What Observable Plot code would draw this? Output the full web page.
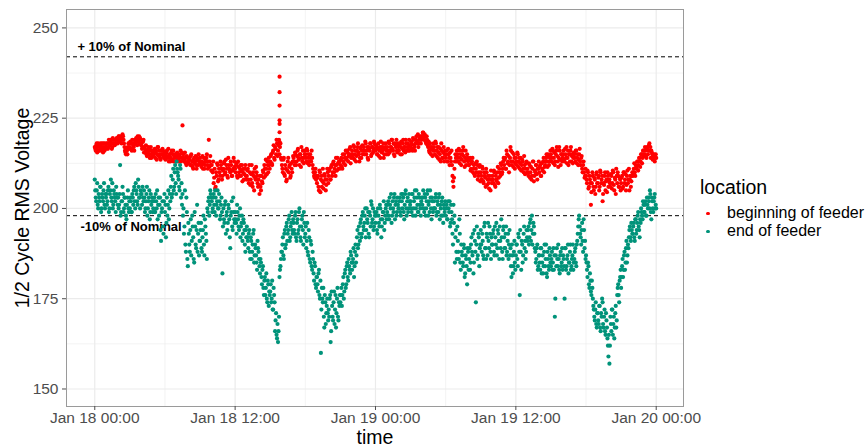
<!DOCTYPE html>
<html>
<head>
<meta charset="utf-8">
<script src="https://cdn.jsdelivr.net/npm/d3@7"></script>
<script src="https://cdn.jsdelivr.net/npm/@observablehq/plot@0.6"></script>
<style>
  html, body { margin: 0; padding: 0; background: #fff; }
  #wrap { position: relative; width: 865px; height: 447px; font-family: "Liberation Sans", Arial, Helvetica, sans-serif; }
  #legend { position: absolute; left: 700px; top: 175px; color: #000; }
  #legend .title { font-size: 19.5px; line-height: 24px; }
  #legend .entries { margin-top: 5px; }
  #legend .entry { position: relative; font-size: 16px; line-height: 18.4px; height: 18.4px; padding-left: 27px; white-space: nowrap; }
  #legend .dot { position: absolute; left: 6.4px; top: 7.6px; width: 3.2px; height: 3.2px; border-radius: 50%; }
</style>
</head>
<body>
<div id="wrap"><div id="chart"></div><div id="legend"></div></div>
<script>
// ---- categories & styling lookup ----
const locations = ["beginning of feeder", "end of feeder"];
const colors = ["#ff0000", "#00937a"];

// ---- tick labels ----
const xTickTimes = ["2018-01-18T00:00Z", "2018-01-18T12:00Z", "2018-01-19T00:00Z", "2018-01-19T12:00Z", "2018-01-20T00:00Z"];
const xMinorTimes = ["2018-01-18T06:00Z", "2018-01-18T18:00Z", "2018-01-19T06:00Z", "2018-01-19T18:00Z"];
const yTicks = [150, 175, 200, 225, 250];
const yMinor = [162.5, 187.5, 212.5, 237.5];

// ---- reference lines & their labels ----
const limitValues = [242, 198];
const limitLabels = ["+ 10% of Nominal", "-10% of Nominal"];
const limitLabelTimes = ["2018-01-17T22:31Z", "2018-01-17T22:47Z"];
const limitLabelValues = [244.9, 194.8];

// ---- series: 5-minute readings (set A on the 5-min mark, set B 2.5 min later),
//      one row per hour starting Jan 18 00:00 ----
const startTime = "2018-01-18T00:00Z";
const beginningOfFeederA = [
  [217,216,218,217,216,217,218,216,217,218,216,217],
  [217,218,217,218,219,218,217,219,218,219,218,219],
  [219,220,219,220,219,220,218,216,215,216,217,218],
  [217,218,216,218,217,219,218,219,220,219,218,219],
  [218,217,219,217,216,215,216,217,215,216,214,216],
  [215,216,214,216,215,217,215,214,216,215,216,214],
  [215,214,216,214,213,215,214,216,215,213,214,215],
  [214,215,213,214,216,214,223,215,213,214,212,214],
  [213,214,212,215,213,211,214,213,212,214,212,213],
  [214,212,213,211,214,212,213,215,211,219,213,212],
  [212,210,207,211,206,209,212,208,210,213,211,209],
  [211,213,210,212,209,214,211,210,212,209,211,213],
  [211,212,209,213,210,211,209,212,210,208,211,209],
  [209,211,207,210,208,212,206,209,211,208,210,207],
  [208,204,206,209,207,210,212,209,211,213,210,212],
  [213,215,212,216,214,217,215,218,216,219,217,214],
  [212,210,214,209,211,208,213,210,212,209,211,213],
  [214,212,215,213,216,214,212,215,217,213,214,216],
  [215,213,216,214,212,215,213,214,211,209,210,208],
  [207,209,205,210,208,206,211,207,209,205,208,210],
  [209,211,208,212,210,213,211,209,212,214,211,213],
  [212,214,211,213,215,212,214,216,213,215,217,214],
  [216,214,217,215,213,216,218,215,214,217,216,215],
  [217,215,218,216,214,217,216,218,215,217,216,218],
  [216,217,215,218,216,214,217,216,218,215,217,216],
  [217,215,218,216,217,219,216,215,218,217,216,218],
  [216,218,217,215,218,216,217,219,216,218,217,216],
  [217,218,216,219,217,218,220,218,217,219,220,219],
  [220,221,219,220,218,219,217,216,218,215,217,216],
  [217,215,218,216,214,217,215,213,216,214,217,215],
  [214,216,213,215,212,214,216,209,206,211,215,213],
  [215,213,216,214,212,215,217,213,214,212,215,213],
  [212,214,211,213,210,212,209,211,213,208,210,212],
  [210,208,211,207,209,206,210,208,207,209,205,208],
  [209,207,210,206,208,210,207,211,209,212,210,213],
  [212,214,211,215,213,210,214,216,212,213,215,211],
  [214,212,215,213,211,214,212,213,210,212,211,213],
  [211,209,212,210,208,211,213,209,210,212,208,211],
  [210,212,209,211,213,210,212,214,213,215,212,214],
  [215,213,216,214,212,215,217,213,214,216,212,215],
  [214,216,213,215,217,214,212,215,216,213,215,214],
  [215,213,216,214,212,215,213,214,211,212,210,209],
  [209,207,210,206,208,201,207,209,205,208,206,210],
  [207,209,206,210,208,202,207,209,205,208,210,206],
  [208,206,209,207,210,205,208,211,207,209,206,208],
  [207,209,206,210,208,205,209,207,211,208,206,209],
  [209,211,210,212,211,213,212,214,213,215,214,216],
  [215,216,214,217,216,218,217,216,215,214,215,214],
  [214]
];
const beginningOfFeederB = [
  [216.5,217.5,215.5,218,216,217.5,216.5,218,215.5,217,218,216.5],
  [218,216.5,219,217.5,218.5,216.5,219.5,218,217.5,219,219.5,218],
  [220,218.5,219.5,218,220.5,219,217,215.5,216.5,215,218,216.5],
  [218.5,216.5,219,217.5,216,218.5,219.5,217.5,218.5,220,219.5,217.5],
  [216.5,218.5,215.5,216.5,217.5,214.5,215.5,216.5,214,217,215,215.5],
  [214.5,216.5,215.5,213.5,217,214.5,216,213.5,215,216.5,214.5,215.5],
  [213.5,215.5,214.5,216.5,214,213,215.5,213.5,216,214.5,215,213],
  [215.5,213.5,214.5,215,213,215.5,214,213.5,215.5,212.5,214.5,213],
  [212.5,213.5,214.5,212,211.5,213.5,212.5,214.5,211,213.5,215,212.5],
  [213,211.5,214.5,212.5,211,213.5,214,212,213,211.5,214.5,210.5],
  [210.5,213,208.5,205.5,210,212.5,207.5,211,209,212,208,210.5],
  [212.5,209.5,213.5,211,208.5,212,210.5,213,209,210.5,214,211.5],
  [210,212.5,208.5,211.5,209,212,210.5,207.5,211,209.5,212,208],
  [210.5,208,212,206.5,209.5,207,210,205,208.5,211.5,209,206],
  [206.5,209,205,207.5,210.5,208.5,211,213.5,209.5,212,214,211],
  [214.5,212.5,215.5,217.5,213.5,216.5,219,214.5,217.5,215,218,213.5],
  [211,213.5,209.5,212,207.5,210.5,214,211.5,208.5,212.5,210,214.5],
  [213,215.5,212,214.5,216.5,213.5,215,211.5,214,216,212.5,215],
  [214,216.5,212.5,215,213,214,216,212,210,208.5,211,209],
  [208.5,206,210.5,204.5,209,207.5,205.5,209.5,208,206.5,211,207],
  [210.5,208,211.5,209,212.5,210,212,214,210.5,212.5,213,211],
  [213.5,211.5,215,212.5,214,216,213.5,215.5,214.5,216.5,212.5,215],
  [215,217.5,213.5,216,214.5,217,215.5,213,216.5,214,217.5,216],
  [216,218.5,215,217,213.5,216.5,218,214.5,217,215.5,218.5,216.5],
  [217.5,215,216.5,214.5,217,218.5,215.5,217,214,216.5,218,215],
  [216,218.5,215.5,217,219,216.5,218,214.5,217.5,219,215.5,217],
  [217.5,215,218.5,216.5,219,217,215.5,218,217,216,219,217.5],
  [218.5,216.5,219.5,217.5,216,219,218.5,220.5,218,219.5,218,220],
  [221,219.5,220.5,218.5,220,217.5,218.5,215.5,217,216.5,214.5,218],
  [216,218.5,214.5,217,215.5,213.5,216.5,218,214,215.5,213,216],
  [215,213,216.5,214,215.5,213,212,207.5,208.5,213,214,216],
  [214,216.5,212.5,215,213.5,216,214.5,211.5,216,213.5,214,212],
  [213.5,210.5,212.5,214,211,209.5,212.5,210,212,209,211.5,207.5],
  [209,211.5,207.5,210,208.5,211,206.5,209,205.5,208,210.5,207],
  [208,210.5,206.5,209,207.5,211.5,208.5,210,212.5,209.5,211,214],
  [213.5,211,216,212.5,214.5,212,217,213,215.5,211.5,214,212.5],
  [213,215.5,211.5,214,212.5,210.5,213.5,211,214.5,209.5,212.5,210],
  [210,212.5,208.5,211.5,209,213,207.5,210.5,212,209.5,211,213],
  [211.5,209,212.5,210.5,214,211.5,213,215,211.5,214.5,213,216],
  [214,216.5,212.5,215.5,213,216,214.5,211.5,217,213.5,215,213],
  [215,213.5,216.5,214,212.5,216,215,213,217,214.5,212.5,215.5],
  [214,216,212.5,215,213.5,216.5,212,214.5,210,213,208.5,211],
  [208,210.5,205.5,209,207,204.5,210,206,208.5,204,209.5,207],
  [208.5,205,210.5,207,209,204,206.5,210,207.5,204.5,209,207.5],
  [207,209.5,205.5,210.5,206.5,208.5,204,209,210,206,208.5,205],
  [208.5,205.5,210,207,209.5,206.5,210.5,208,205,209,207.5,210],
  [210,212.5,209,211.5,213,210.5,214,211.5,215,212.5,216,214.5],
  [217,214.5,216.5,215,217.5,216,214,215.5,213.5,214.5,213,215]
];
// short spike of readings at one instant
const spikeTime = "2018-01-18T15:48Z";
const spikeValues = [236.5, 232.2, 228.5, 224.4, 223.4, 221.1, 218.4];

const endOfFeederA = [
  [208,203,205,201,204,202,206,200,203,205,201,204],
  [204,202,206,200,205,203,207,201,204,202,206,203],
  [203,201,212,199,202,204,200,203,198,201,205,199],
  [200,202,199,203,205,202,207,204,201,206,203,205],
  [204,206,202,203,200,204,198,202,205,199,201,203],
  [200,203,199,202,205,201,198,203,191,200,195,202],
  [199,192,203,201,197,204,206,203,208,205,210,207],
  [213,210,208,205,211,207,204,200,195,190,203,186],
  [196,190,194,187,198,192,185,195,189,201,193,187],
  [191,196,188,194,190,197,193,186,199,203,201,204],
  [202,200,204,199,203,201,205,200,202,198,203,182],
  [200,196,202,198,194,201,197,189,199,195,203,197],
  [199,196,201,197,194,200,195,198,193,196,190,194],
  [195,191,193,188,192,186,190,194,187,189,185,191],
  [188,184,186,181,183,178,180,176,182,174,179,177],
  [177,174,180,172,176,166,171,164,163,170,183,186],
  [188,192,186,194,190,196,193,197,191,195,199,193],
  [196,193,199,191,197,194,200,192,195,198,190,196],
  [193,189,196,187,192,185,190,183,186,180,184,178],
  [181,177,183,175,160,178,174,170,176,168,173,171],
  [172,175,163,177,170,174,168,176,171,178,169,173],
  [174,178,176,181,177,183,179,185,180,184,182,187],
  [183,186,181,188,185,192,189,195,191,197,193,199],
  [194,198,192,200,196,193,199,195,201,197,194,199],
  [196,199,193,198,195,200,192,197,199,194,198,201],
  [199,202,197,201,204,198,200,203,197,202,199,201],
  [200,203,198,202,204,199,201,205,198,203,200,202],
  [202,199,204,200,203,198,205,201,199,203,200,202],
  [201,205,199,203,200,204,198,202,205,200,203,199],
  [202,200,204,199,201,203,197,200,202,198,201,199],
  [198,201,197,200,202,196,199,193,201,198,192,188],
  [195,188,197,185,190,187,184,189,182,186,179,188],
  [186,183,190,188,193,185,191,174,195,187,192,189],
  [194,188,191,186,196,189,193,187,191,195,188,192],
  [190,194,187,192,196,189,193,186,191,197,188,194],
  [192,189,195,188,193,190,187,184,190,182,188,185],
  [187,190,184,192,176,188,191,185,193,189,186,194],
  [191,195,192,197,194,190,196,193,188,186,190,184],
  [187,183,189,185,182,188,184,190,181,186,183,187],
  [184,188,185,183,170,187,189,184,186,182,188,185],
  [183,186,175,189,184,187,182,185,190,184,187,183],
  [186,189,184,191,195,198,193,190,196,188,194,191],
  [187,183,185,179,182,177,180,175,172,169,174,167],
  [171,168,173,166,170,174,167,172,165,169,164,159],
  [157,170,166,172,168,164,171,167,176,179,174,181],
  [178,184,181,187,183,189,185,190,192,195,191,194],
  [193,196,191,197,194,198,195,192,196,199,197,201],
  [199,202,198,201,203,200,204,197,202,199,203,200],
  [200]
];
const endOfFeederB = [
  [205,202,207,200,203,206,199,204,202,207,200,203],
  [201,205,199,204,208,202,200,205,203,199,204,201],
  [200,204,198,202,206,199,203,201,197,203,200,202],
  [203,199,204,201,206,200,205,202,208,203,200,204],
  [201,203,205,199,202,206,200,203,197,204,202,199],
  [202,199,204,200,197,203,201,194,199,202,193,204],
  [201,196,198,205,200,202,209,204,211,206,212,204],
  [211,209,206,212,203,201,198,193,205,188,199,184],
  [193,188,197,191,195,186,199,190,194,188,196,191],
  [194,189,192,198,187,195,191,200,202,198,205,203],
  [199,203,201,205,198,202,200,204,197,201,199,195],
  [197,201,193,199,196,200,192,198,202,194,199,196],
  [197,193,199,195,198,192,196,191,197,194,188,192],
  [192,189,194,186,191,188,193,185,190,187,183,189],
  [186,182,185,179,184,176,181,178,175,180,173,176],
  [179,175,172,178,174,169,165,168,166,181,184,188],
  [190,187,193,189,195,191,194,198,192,196,194,197],
  [194,198,192,196,193,199,195,191,197,194,199,192],
  [195,191,188,194,186,191,184,188,182,185,179,181],
  [179,182,176,180,172,175,178,167,174,171,175,169],
  [170,176,166,173,169,177,172,167,175,170,174,176],
  [176,173,179,175,182,178,184,181,186,183,188,185],
  [185,189,184,190,187,194,190,193,196,192,198,195],
  [196,200,194,197,199,192,198,202,196,200,195,198],
  [198,194,200,196,201,197,195,199,202,196,200,197],
  [201,198,203,200,196,202,199,204,201,198,203,200],
  [202,199,204,200,203,197,204,200,202,199,204,201],
  [200,204,198,202,205,200,203,199,204,201,198,203],
  [203,200,204,198,202,205,201,199,203,197,202,200],
  [200,203,198,202,199,204,201,198,203,196,200,202],
  [200,197,202,199,195,201,197,190,196,185,194,186],
  [191,186,193,183,188,185,190,181,187,184,189,183],
  [189,185,192,187,182,194,188,190,186,193,184,190],
  [190,193,187,195,189,186,192,196,189,193,186,190],
  [193,188,195,190,187,194,191,195,189,192,186,195],
  [189,193,187,191,186,194,189,181,187,184,191,183],
  [190,186,193,188,194,183,190,187,195,191,188,192],
  [194,190,196,191,198,193,195,189,185,189,183,187],
  [185,189,182,187,184,190,186,182,188,184,189,185],
  [186,183,189,187,175,184,186,190,183,187,184,189],
  [187,184,189,183,186,190,185,188,183,186,190,185],
  [188,185,190,193,197,195,192,194,191,197,189,186],
  [185,181,184,178,180,176,178,173,170,172,168,171],
  [169,173,167,171,175,168,170,166,171,167,162,165],
  [162,168,172,165,170,167,173,169,178,176,180,183],
  [181,186,183,188,185,191,187,189,194,192,196,193],
  [195,192,197,193,196,199,194,197,200,198,202,199],
  [201,198,203,200,202,205,199,203,200,202,204,201]
];

// ---- build table ----
const t0 = new Date(startTime).getTime();
function rowsToData(rows, location, offset) {
  const out = [];
  rows.forEach((row, h) => row.forEach((v, i) => {
    out.push({time: new Date(t0 + (h + (i + offset) / 12) * 3600e3), v, location});
  }));
  return out;
}
const data = [
  ...rowsToData(beginningOfFeederA, locations[0], 0),
  ...rowsToData(beginningOfFeederB, locations[0], 0.5),
  ...spikeValues.map(v => ({time: new Date(spikeTime), v, location: locations[0]})),
  ...rowsToData(endOfFeederA, locations[1], 0),
  ...rowsToData(endOfFeederB, locations[1], 0.5)
];
const annotations = limitLabels.map((label, i) => ({label, time: new Date(limitLabelTimes[i]), v: limitLabelValues[i]}));
const xTicks = xTickTimes.map(s => new Date(s));
const xMinor = xMinorTimes.map(s => new Date(s));
const fmt = d3.utcFormat("%b %d %H:%M");

const font = '"Liberation Sans", Arial, Helvetica, sans-serif';
const chart = Plot.plot({
  width: 865,
  height: 447,
  marginLeft: 66,
  marginRight: 182,
  marginTop: 9,
  marginBottom: 41,
  style: {fontFamily: font, background: "#fff", overflow: "visible"},
  x: {type: "utc", domain: [new Date("2018-01-17T21:35Z"), new Date("2018-01-20T02:20Z")]},
  y: {domain: [145.15, 255.1]},
  color: {domain: locations, range: colors},
  marks: [
    Plot.ruleX(xMinor, {stroke: "#ebebeb", strokeWidth: 0.6}),
    Plot.ruleY(yMinor, {stroke: "#ebebeb", strokeWidth: 0.6}),
    Plot.ruleX(xTicks, {stroke: "#ebebeb", strokeWidth: 1.2}),
    Plot.ruleY(yTicks, {stroke: "#ebebeb", strokeWidth: 1.2}),
    Plot.ruleY(limitValues, {stroke: "#000", strokeWidth: 1, strokeDasharray: "4,3"}),
    Plot.text(annotations, {x: "time", y: "v", text: "label", textAnchor: "start", lineAnchor: "middle", fontSize: 13, fontWeight: "bold", fill: "#000"}),
    Plot.dot(data, {x: "time", y: "v", fill: "location", r: 2.1, stroke: null}),
    Plot.frame({stroke: "#9a9a9a", strokeWidth: 1}),
    Plot.axisX({ticks: xTicks, tickFormat: fmt, tickSize: 4, tickPadding: 1, fontSize: 15.5, color: "#4d4d4d", label: null}),
    Plot.axisY({ticks: yTicks, tickSize: 4, tickPadding: 4, fontSize: 15.5, color: "#4d4d4d", label: null}),
    Plot.text(["time"], {frameAnchor: "bottom", textAnchor: "middle", lineAnchor: "middle", dy: 31.7, fontSize: 19.5, fill: "#000"}),
    Plot.text(["1/2 Cycle RMS Voltage"], {frameAnchor: "left", rotate: -90, textAnchor: "middle", lineAnchor: "middle", dx: -44, fontSize: 19.5, fill: "#000"})
  ]
});
document.getElementById("chart").appendChild(chart);

// ---- legend ----
const legend = document.getElementById("legend");
legend.innerHTML = '<div class="title">location</div><div class="entries">' +
  locations.map((loc, i) => `<div class="entry"><span class="dot" style="background:${colors[i]}"></span>${loc}</div>`).join("") +
  '</div>';
</script>
</body>
</html>
